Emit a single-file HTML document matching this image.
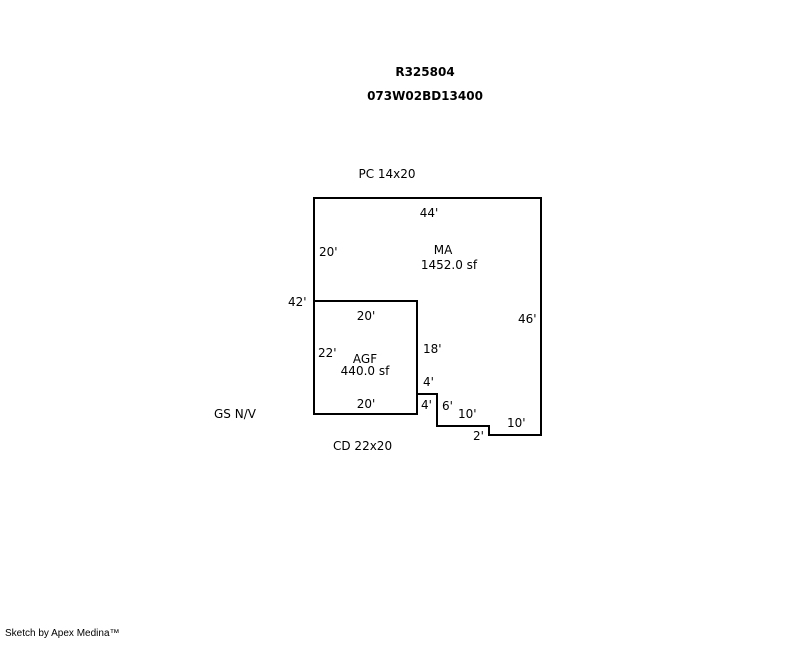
<!DOCTYPE html>
<html><head><style>
body{margin:0;width:800px;height:640px;background:#fff;overflow:hidden}
svg text{font-family:"DejaVu Sans","Liberation Sans",sans-serif;font-size:12px;fill:#000}
</style></head><body>
<svg width="800" height="640" xmlns="http://www.w3.org/2000/svg">
<text x="425" y="76" text-anchor="middle" font-weight="bold" style="font-size:12px">R325804</text>
<text x="425" y="100" text-anchor="middle" font-weight="bold" style="font-size:12px">073W02BD13400</text>
<text x="387" y="178" text-anchor="middle">PC 14x20</text>
<g fill="none" stroke="#000" stroke-width="2">
<polyline points="314,301 314,198 541,198 541,435 489,435 489,426 437,426 437,394 417,394"/>
<rect x="314" y="301" width="103" height="113"/>
</g>
<text x="429" y="217" text-anchor="middle">44'</text>
<text x="319" y="256">20'</text>
<text x="443" y="254" text-anchor="middle">MA</text>
<text x="449" y="269" text-anchor="middle">1452.0 sf</text>
<text x="288" y="306">42'</text>
<text x="366" y="320" text-anchor="middle">20'</text>
<text x="518" y="323">46'</text>
<text x="318" y="357">22'</text>
<text x="423" y="353">18'</text>
<text x="365" y="363" text-anchor="middle">AGF</text>
<text x="365" y="375" text-anchor="middle">440.0 sf</text>
<text x="423" y="386">4'</text>
<text x="366" y="408" text-anchor="middle">20'</text>
<text x="421" y="409">4'</text>
<text x="442" y="410">6'</text>
<text x="458" y="418">10'</text>
<text x="507" y="427">10'</text>
<text x="473" y="440">2'</text>
<text x="214" y="418">GS N/V</text>
<text x="333" y="450">CD 22x20</text>
<text x="5" y="636" style="font-family:'Liberation Sans',sans-serif;font-size:10px">Sketch by Apex Medina™</text>
</svg>
</body></html>
